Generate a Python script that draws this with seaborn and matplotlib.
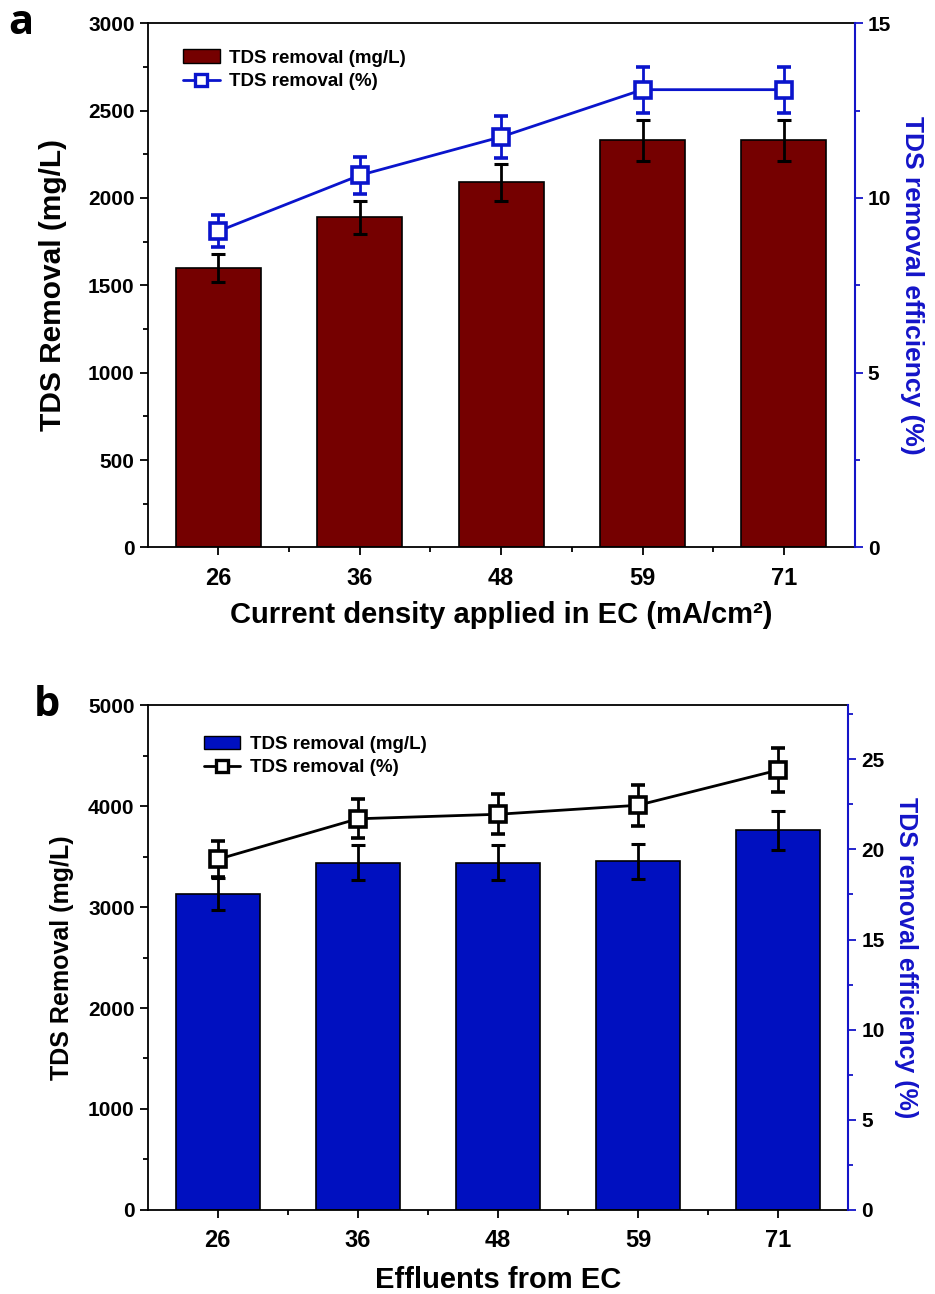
import numpy as np
import pandas as pd
import matplotlib
matplotlib.use('Agg')
import matplotlib.pyplot as plt
import seaborn as sns
from matplotlib.ticker import MultipleLocator, FixedLocator
from matplotlib.patches import Patch
from matplotlib.lines import Line2D

# ---- data ----
densities = ['26', '36', '48', '59', '71']

a_removal = [1600, 1890, 2090, 2330, 2330]
a_removal_err = [80, 95, 105, 118, 118]
a_eff = [9.05, 10.65, 11.75, 13.1, 13.1]
a_eff_err = [0.46, 0.53, 0.6, 0.66, 0.66]

b_removal = [3130, 3440, 3440, 3455, 3760]
b_removal_err = [163, 174, 174, 175, 190]
b_eff = [19.45, 21.7, 21.95, 22.45, 24.4]
b_eff_err = [1.0, 1.08, 1.12, 1.14, 1.21]

# ---- style ----
sns.set_theme(style='ticks')
plt.rcParams['font.family'] = ['Liberation Sans', 'DejaVu Sans']
plt.rcParams['font.weight'] = 'bold'
for k in ['text.color', 'axes.labelcolor', 'xtick.color', 'ytick.color']:
    plt.rcParams[k] = 'black'
axis_blue = '#1414c8'


def draw_panel(ax, removal, removal_err, eff, eff_err, bar_color, line_color,
               ymax, ystep, rmax, rstep, xlabel, letter, leg_anchor,
               xpad, xlabelpad, letter_x, ylab_size, ylab_pad, rlab_size):
    df = pd.DataFrame({'density': densities, 'removal': removal})
    sns.barplot(data=df, x='density', y='removal', color=bar_color, width=0.6,
                saturation=1, edgecolor='black', linewidth=1.2, errorbar=None, ax=ax)
    x = np.arange(len(densities))
    ax.errorbar(x, removal, yerr=removal_err, fmt='none', ecolor='black',
                elinewidth=2, capsize=5, capthick=2.2, zorder=3)
    ax.set_xlim(-0.5, len(densities) - 0.5)
    ax.set_ylim(0, ymax)
    ax.yaxis.set_major_locator(MultipleLocator(ystep))
    ax.yaxis.set_minor_locator(MultipleLocator(ystep / 2))
    ax.xaxis.set_minor_locator(FixedLocator(x[:-1] + 0.5))
    ax.tick_params(axis='both', which='major', direction='out', length=6, width=1.3,
                   labelsize=15, colors='black')
    ax.tick_params(axis='x', which='major', labelsize=17, pad=xpad)
    ax.tick_params(axis='both', which='minor', direction='out', length=3.5, width=1.3)
    ax.set_ylabel('TDS Removal (mg/L)', fontsize=ylab_size, fontweight='bold',
                  labelpad=ylab_pad)
    ax.set_xlabel(xlabel, fontsize=21, fontweight='bold', labelpad=xlabelpad)
    for s in ['left', 'bottom', 'top']:
        ax.spines[s].set_linewidth(1.3)
        ax.spines[s].set_color('black')
    ax.spines['right'].set_visible(False)

    # ---- efficiency on right axis ----
    ax2 = ax.twinx()
    sns.lineplot(x=x, y=eff, color=line_color, linewidth=2, ax=ax2)
    ax2.errorbar(x, eff, yerr=eff_err, fmt='s', color=line_color, mfc='white',
                 mec=line_color, ms=11, mew=2.6, ecolor=line_color, elinewidth=2,
                 capsize=5, capthick=2.2, zorder=4)
    ax2.set_ylim(0, rmax)
    ax2.yaxis.set_major_locator(MultipleLocator(rstep))
    ax2.yaxis.set_minor_locator(MultipleLocator(rstep / 2))
    ax2.tick_params(axis='y', which='major', direction='out', length=6, width=1.3,
                    color=axis_blue, labelcolor='black', labelsize=15)
    ax2.tick_params(axis='y', which='minor', direction='out', length=3.5, width=1.3,
                    color=axis_blue)
    for s in ['left', 'bottom', 'top']:
        ax2.spines[s].set_visible(False)
    ax2.spines['right'].set_color(axis_blue)
    ax2.spines['right'].set_linewidth(1.5)
    ax2.set_ylabel('TDS removal efficiency (%)', color=axis_blue, fontsize=rlab_size,
                   fontweight='bold', rotation=270, labelpad=24)

    handles = [Patch(facecolor=bar_color, edgecolor='black', linewidth=1),
               Line2D([], [], color=line_color, lw=2, marker='s', mfc='white',
                      mec=line_color, ms=9, mew=2.4)]
    ax2.legend(handles, ['TDS removal (mg/L)', 'TDS removal (%)'], loc='upper left',
               bbox_to_anchor=leg_anchor, frameon=False, borderaxespad=0, borderpad=0,
               handlelength=1.95, handletextpad=0.5, labelspacing=0.35,
               prop={'weight': 'bold', 'size': 13.5})

    ax.text(letter_x, 1.0, letter, transform=ax.transAxes, fontsize=30,
            fontweight='bold', family=['Open Sans', 'DejaVu Sans'], va='center', ha='left')
    return ax2


fig = plt.figure(figsize=(9.35, 12.94), dpi=100)
ax_a = fig.add_axes([0.158, 0.577, 0.756, 0.405])
ax_b = fig.add_axes([0.158, 0.065, 0.749, 0.39])

draw_panel(ax_a, a_removal, a_removal_err, a_eff, a_eff_err, '#750000', '#0a14cc',
           3000, 500, 15, 5, 'Current density applied in EC (mA/cm\u00b2)', 'a', (0.05, 0.95),
           8, 8, -0.198, 21.5, 15, 19)
draw_panel(ax_b, b_removal, b_removal_err, b_eff, b_eff_err, '#0010c0', 'black',
           5000, 1000, 28, 5, 'Effluents from EC', 'b', (0.08, 0.94),
           8, 10, -0.163, 18, 10, 18)

fig.savefig('out.png', dpi=100)
